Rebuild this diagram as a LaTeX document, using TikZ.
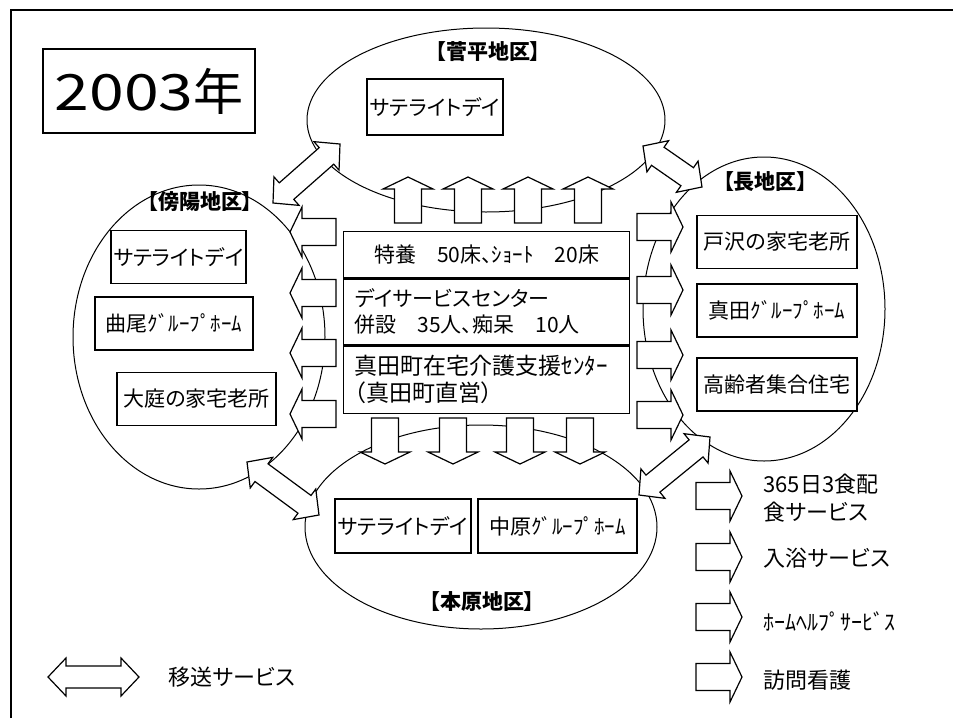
\documentclass[tikz,border=0pt]{standalone}
\usepackage{fontspec}
\setmainfont{Noto Sans CJK JP}[RawFeature=+palt]
\usetikzlibrary{positioning,calc,shapes.geometric}

\tikzset{
  pics/blkarrow/.style={code={
    \draw[arrowline] (0,-13.5) -- (34,-13.5) -- (34,-25) -- (46,0)
      -- (34,25) -- (34,13.5) -- (0,13.5) -- cycle;}},
  pics/dblarrow/.style={code={
    \draw[arrowline] (0,0) -- (18,-19) -- (18,-11) -- ({#1-18},-11)
      -- ({#1-18},-19) -- ({#1},0) -- ({#1-18},19) -- ({#1-18},11)
      -- (18,11) -- (18,19) -- cycle;}}
}

% transport arrow between two named points
\newcommand{\transfer}[2]{%
  \path let \p1=($(#2)-(#1)$), \n1={atan2(\y1,\x1)}, \n2={veclen(\x1,\y1)}
    in pic[rotate=\n1] at (#1) {dblarrow=\n2};}

\begin{document}
\begin{tikzpicture}[x=1pt,y=-1pt,
    arrowline/.style={draw,fill=white,line width=1.2pt,line join=miter},
    district/.style={ellipse,draw,line width=1pt,inner sep=0pt},
    facility/.style={rectangle,draw,fill=white,line width=1.3pt,
      minimum height=53pt,inner sep=2pt,font=\fontsize{21}{25}\selectfont},
    area/.style={font=\bfseries\fontsize{21}{25}\selectfont},
    row/.style={rectangle,draw,line width=1.3pt,anchor=north west,
      minimum width=286pt,inner xsep=11pt,text width=264pt,align=left,
      font=\fontsize{21}{26}\selectfont},
    legend/.style={anchor=west,align=left,font=\fontsize{22}{28}\selectfont}]

  \useasboundingbox (0,0) rectangle (953,718);
  \draw[line width=2pt] (11,718) -- (11,10) -- (953,10);

  % districts
  \node[district,minimum width=358pt,minimum height=184pt] (suga) at (486,120) {};
  \node[district,minimum width=252pt,minimum height=304pt] (soe)  at (199,337) {};
  \node[district,minimum width=242pt,minimum height=304pt] (osa)  at (764,309) {};
  \node[district,minimum width=352pt,minimum height=204pt] (moto) at (481,527) {};

  \node[area] (sugaL) at (488,52)  {【菅平地区】};
  \node[area] (soeL)  at (200,202) {【傍陽地区】};
  \node[area] (osaL)  at (765,182) {【長地区】};
  \node[area] (motoL) at (482,602) {【本原地区】};

  % service arrows from the centre
  \foreach \x in {408,468,528,588} \pic[rotate=90] at (\x,223) {blkarrow};
  \foreach \x in {385,453,520,580} \pic[rotate=-90] at (\x,418) {blkarrow};
  \foreach \y in {232,293,353,414} \pic[rotate=180] at (336,\y) {blkarrow};
  \foreach \y in {227,290,355,415} \pic at (637,\y) {blkarrow};

  % transport
  \coordinate (soeN)  at (273,203);
  \coordinate (sugaW) at (340,144);
  \coordinate (sugaE) at (643,146);
  \coordinate (osaN)  at (702,187);
  \coordinate (soeS)  at (247,462);
  \coordinate (motoW) at (319,515);
  \coordinate (motoE) at (639,495);
  \coordinate (osaS)  at (710,437);
  \transfer{soeN}{sugaW}
  \transfer{sugaE}{osaN}
  \transfer{soeS}{motoW}
  \transfer{motoE}{osaS}

  % title
  \node[facility,minimum width=212pt,minimum height=84pt,
        font=\fontsize{50}{50}\selectfont] (year) at (149,91)
        {\scalebox{1.25}[1]{2003}年};

  % facilities
  \node[facility,minimum width=136pt,minimum height=56pt] (sugaSat) at (435,107) {サテライトデイ};
  \node[facility,minimum width=135pt] (soeSat)  at (178.5,257)   {サテライトデイ};
  \node[facility,minimum width=158pt] (magario) at (174,323.5)   {曲尾ｸﾞﾙｰﾌﾟﾎｰﾑ};
  \node[facility,minimum width=159pt] (oniwa)   at (196.5,399)   {大庭の家宅老所};
  \node[facility,minimum width=160pt] (tozawa)  at (777,242)     {戸沢の家宅老所};
  \node[facility,minimum width=160pt] (sanada)  at (777,310.5)   {真田ｸﾞﾙｰﾌﾟﾎｰﾑ};
  \node[facility,minimum width=160pt] (koreisha) at (777,384.5)  {高齢者集合住宅};
  \node[facility,minimum width=136pt,minimum height=54pt] (motoSat) at (403,526) {サテライトデイ};
  \node[facility,minimum width=159pt,minimum height=54pt] (nakahara) at (557.5,526) {中原ｸﾞﾙｰﾌﾟﾎｰﾑ};

  % centre
  \node[row,minimum height=46pt,align=center] (toku) at (343,231) {特養　50床、ｼｮｰﾄ　20床};
  \node[row,below=0pt of toku,minimum height=66pt] (dayc)
        {デイサービスセンター\\併設　35人、痴呆　10人};
  \node[row,below=0pt of dayc,minimum height=67pt,
        font=\fontsize{23}{27}\selectfont] (shien)
        {真田町在宅介護支援ｾﾝﾀｰ\\（真田町直営）};

  % legend
  \coordinate (ido1) at (48,677);
  \coordinate (ido2) at (139,677);
  \transfer{ido1}{ido2}
  \node[legend] (idoT) at (165,677) {移送サービス};
  \foreach \y in {496,557,617,677} \pic at (696,\y) {blkarrow};
  \node[legend] (meal)  at (760,498) {365日3食配\\食サービス};
  \node[legend] (bath)  at (760,558) {入浴サービス};
  \node[legend] (help)  at (760,622) {ﾎｰﾑﾍﾙﾌﾟｻｰﾋﾞｽ};
  \node[legend] (nurse) at (760,680) {訪問看護};
\end{tikzpicture}
\end{document}
